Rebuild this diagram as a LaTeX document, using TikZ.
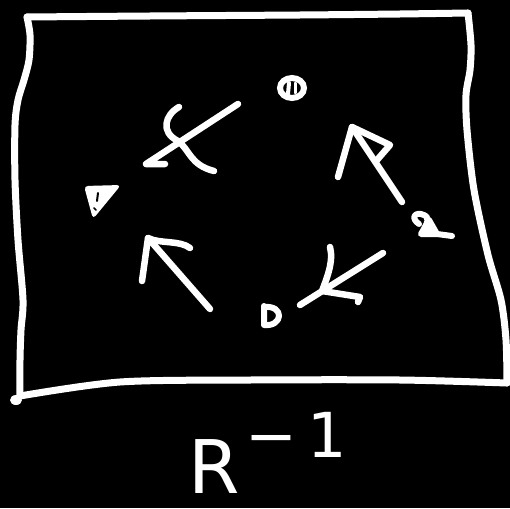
\documentclass[tikz,border=0pt]{standalone}
\usepackage{fontspec}
\setsansfont{DejaVu Sans}
\usetikzlibrary{calc}
\begin{document}
\begin{tikzpicture}[x=1pt,y=-1pt,
  ink/.style={draw=white,line width=6.5pt,line cap=round,line join=round},
  frameink/.style={draw=white,line width=7pt,line cap=round,line join=round}]
\fill[black] (0,0) rectangle (510,508);
\useasboundingbox (0,0) rectangle (510,508);
% frame
\draw[frameink] plot[smooth,tension=0.5] coordinates {(27,17) (150,16) (300,15) (400,14) (468,13)};
\draw[frameink] plot[smooth,tension=0.5] coordinates {(468,13) (471,45) (470,70) (466,95) (467,130) (474,190) (488,255) (501,300) (506,340) (507,383)};
\draw[frameink] plot[smooth,tension=0.5] coordinates {(507,383) (400,380) (250,380) (120,382) (20,396)};
\draw[frameink] plot[smooth,tension=0.5] coordinates {(20,396) (20,360) (21,330) (23,300) (18,240) (15,180) (15,125) (18,100) (24,80) (29,60) (30,35) (27,17)};
\fill[white] (16,400) ellipse (6 and 5);
% named marker positions
\coordinate (top) at (292,88);
\coordinate (left) at (100,198);
\coordinate (bot) at (270,316);
\coordinate (right) at (430,227);
% top circle marker
\draw[white,line width=6pt] (top) ellipse (12 and 10);
\draw[white,line width=4pt,line cap=round] ($(top)+(-3,-5)$) -- ($(top)+(-4,6)$);
\draw[white,line width=3pt,line cap=round] ($(top)+(3,-5)$) -- ($(top)+(3,5)$);
% left triangle marker
\fill[white,rounded corners=4pt] (84,186) -- (121,185) -- (93,219) -- cycle;
\draw[black,line width=2pt,line cap=round] (98,193) -- (97,201);
\draw[black,line width=1.5pt,line cap=round] (94,208) -- (96,210);
% bottom D marker
\draw[ink,line width=6pt] (264,306) -- (264,325) .. controls (283,327) and (285,305) .. (264,307);
% right a-like marker
\draw[ink,line width=6pt] (419,224) .. controls (410,218) and (415,211) .. (424,215) .. controls (430,218) and (428,222) .. (421,234) -- (437,234) -- (429,220);
\fill[white] (421,234) -- (437,234) -- (429,220) -- cycle;
\draw[ink,line width=6pt] (437,234) -- (452,236);
% upper-left arrow with curl
\draw[ink] (238,104) -- (146,164) -- (165,164);
\draw[ink] (179,107) .. controls (165,115) and (160,132) .. (178,141) .. controls (190,150) and (190,165) .. (214,171);
% lower-left arrow
\draw[ink] (210,309) -- (148,238);
\draw[ink] (142,281) -- (148,238) .. controls (160,244) and (180,240) .. (190,248);
% upper-right arrow
\draw[ink] (402,202) -- (352,127);
\draw[ink] (338,177) -- (352,127) -- (390,145) -- (377,160);
% lower-right arrow
\draw[ink] (383,253) -- (300,305);
\draw[ink] (330,247) .. controls (334,262) and (326,280) .. (322,291) -- (360,297) -- (358,302);
% label
\node[white,font=\sffamily,anchor=base west,inner sep=0pt] (lab) at (188,493) {\fontsize{74}{74}\selectfont R\hspace{6pt}\raisebox{36pt}{\fontsize{62}{62}\selectfont −\hspace{10pt}1}};
\end{tikzpicture}
\end{document}
